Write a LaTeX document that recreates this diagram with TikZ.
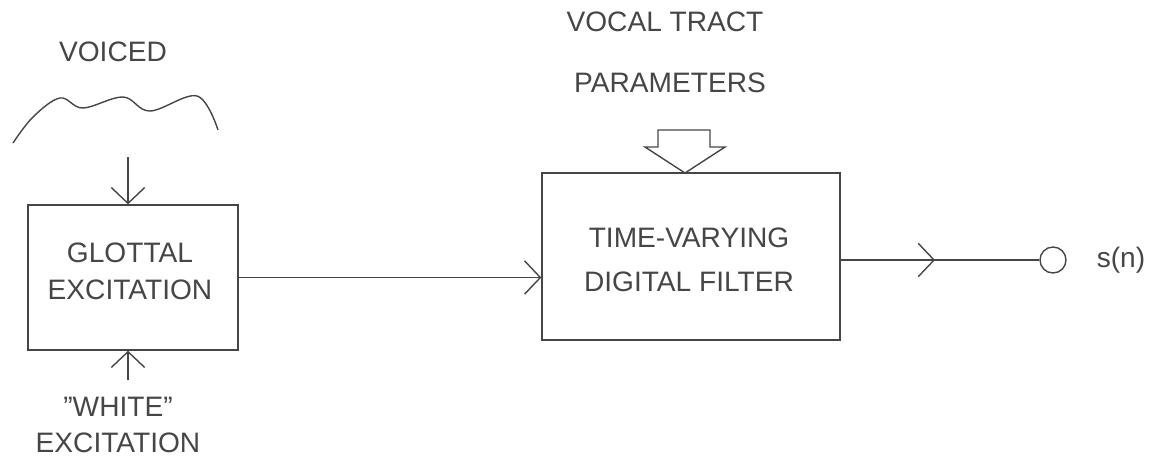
\documentclass[tikz,border=0pt]{standalone}
\usepackage{fontspec}
\setmainfont{Liberation Sans}
\usetikzlibrary{arrows.meta,positioning,decorations.markings}
\definecolor{PlotGray}{RGB}{70, 70, 70}

\begin{document}
\begin{tikzpicture}[
    x=0.02cm, y=-0.02cm,
    line width=0.8pt, draw=PlotGray, text=PlotGray,
    >={Straight Barb[length=9pt, width=19pt]},
    box/.style={rectangle, draw=PlotGray, line width=0.8pt},
    label/.style={font=\fontsize{16}{21}\selectfont, align=center},
    arrow/.style={->, PlotGray},
    midarrow/.style={PlotGray, decoration={markings, mark=at position 0.475 with {\arrow{>}}}, postaction={decorate}}
]
\useasboundingbox (0,0) rectangle (1166,461);

% === SOURCE ===
\node[label] (voiced) at (113,52) {VOICED};
\draw[PlotGray] plot[smooth, tension=0.6] coordinates {(13,143) (33,117) (60,98) (83,108) (123,97) (150,111) (197,96) (218,130)};

\node[box, minimum width=4.2cm, minimum height=2.9cm] (glottal) at (133,277.5) {};
\node[label] (gtext) at (130,271) {GLOTTAL\\[0pt] EXCITATION};
\coordinate (vin) at (128,157);
\draw[arrow] (vin) -- (vin |- glottal.north);

\node[label] (white) at (118,425) {"WHITE"\\[0pt] EXCITATION};
\coordinate (win) at (128,380);
\draw[arrow] (win) -- (win |- glottal.south);

% === FILTER ===
\node[label] (vocal) at (665,22) {VOCAL TRACT};
\node[label] (params) at (670,83) {PARAMETERS};

\node[box, minimum width=5.96cm, minimum height=3.34cm] (filter) at (691,256.5) {};
\node[label] (ftext) at (689,260) {TIME-VARYING\\[4pt] DIGITAL FILTER};
\draw[arrow] (glottal.east) -- (glottal.east -| filter.west);

\coordinate (ptip) at (685,173);
\draw[PlotGray] (ptip) -- (645,147) -- (658,147) -- (658,130) -- (710,130) -- (710,147) -- (725,147) -- cycle;

% === OUTPUT ===
\node[circle, draw=PlotGray, line width=0.8pt, minimum size=0.52cm, inner sep=0pt] (out) at (1053,260) {};
\draw[midarrow] (filter.east |- out) -- (out.west);
\node[label] (sn) at (1121,260) {s(n)};

\end{tikzpicture}
\end{document}
